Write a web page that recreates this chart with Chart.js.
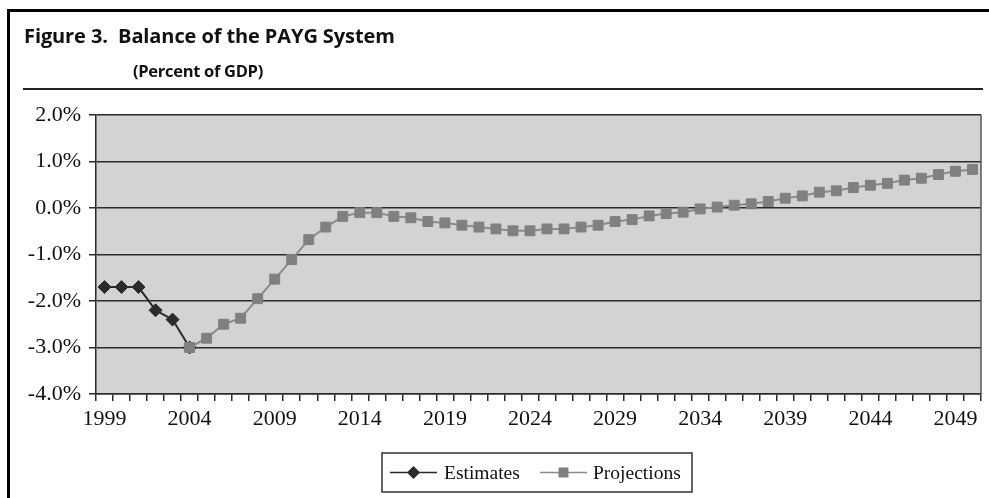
<!DOCTYPE html>
<html>
<head>
<meta charset="utf-8">
<script src="https://cdn.jsdelivr.net/npm/chart.js@4/dist/chart.umd.min.js"></script>
<style>
  html, body { margin: 0; padding: 0; background: #fff; }
  #wrap { position: relative; width: 989px; height: 498px; overflow: hidden; background: #fff; }
  #c { position: absolute; left: 0; top: 0; }
  .frame-left { position: absolute; left: 7px; top: 9px; width: 3px; height: 489px; background: #000; }
  .frame-top { position: absolute; left: 7px; top: 9px; width: 982px; height: 3px; background: #000; }
  .rule { position: absolute; left: 23px; top: 88px; width: 960px; height: 2px; background: #222; }
  .title { position: absolute; left: 24px; top: 22px; font-family: "Open Sans", sans-serif; font-weight: 700;
           font-size: 20px; color: #111; white-space: pre; letter-spacing: -0.1px; }
  .subtitle { position: absolute; left: 133px; top: 59px; font-family: "Open Sans", sans-serif; font-weight: 700;
              font-size: 16.5px; color: #111; white-space: pre; letter-spacing: -0.3px; }
</style>
</head>
<body>
<div id="wrap">
  <canvas id="c" width="989" height="498"></canvas>
  <div class="frame-left"></div>
  <div class="frame-top"></div>
  <div class="title">Figure 3.  Balance of the PAYG System</div>
  <div class="subtitle">(Percent of GDP)</div>
  <div class="rule"></div>
</div>
<script>
// Years on the category axis
const years = [];
for (let y = 1999; y <= 2050; y++) years.push(String(y));

// Labelled years on the x axis
const tickLabels = ['1999', '2004', '2009', '2014', '2019', '2024', '2029', '2034', '2039', '2044', '2049'];

// Balance of the PAYG system, percent of GDP
const estimates = [-1.7, -1.7, -1.7, -2.2, -2.4, -3.0];          // 1999-2004

const projections = [                                             // 2004-2050
  -3.0, -2.8, -2.5, -2.37, -1.95, -1.53, -1.11, -0.68, -0.41, -0.18,
  -0.10, -0.10, -0.18, -0.21, -0.29, -0.32, -0.37, -0.41, -0.45, -0.49,
  -0.49, -0.45, -0.45, -0.41, -0.37, -0.29, -0.25, -0.17, -0.12, -0.09,
  -0.02, 0.02, 0.06, 0.09, 0.14, 0.21, 0.26, 0.34, 0.37, 0.44,
  0.49, 0.53, 0.60, 0.64, 0.72, 0.79, 0.83
];

// Align both series on the full year axis
const estSeries = years.map((_, i) => i < estimates.length ? estimates[i] : null);
const projStart = years.indexOf('2004');
const projSeries = years.map((_, i) => i >= projStart ? projections[i - projStart] : null);

const DARK = '#2b2b2b';
const GREY = '#808080';
const GREY_LINE = '#8a8a8a';

// Plot background and right border of the plot area
const plotFrame = {
  id: 'plotFrame',
  beforeDraw(chart) {
    const { ctx, chartArea: a } = chart;
    ctx.save();
    ctx.fillStyle = '#d3d3d3';
    ctx.fillRect(a.left, a.top, a.right - a.left, a.bottom - a.top);
    ctx.restore();
  },
  afterDatasetsDraw(chart) {
    const { ctx, chartArea: a } = chart;
    ctx.save();
    ctx.strokeStyle = '#555';
    ctx.lineWidth = 1.5;
    ctx.beginPath();
    ctx.moveTo(a.right, a.top);
    ctx.lineTo(a.right, a.bottom);
    ctx.stroke();
    ctx.restore();
  }
};

// Boxed legend below the axis: line sample with marker, then the series name
const boxLegend = {
  id: 'boxLegend',
  afterDraw(chart) {
    const { ctx } = chart;
    const box = { x: 382, y: 453, w: 310, h: 39 };
    const cy = box.y + box.h / 2;
    ctx.save();
    ctx.fillStyle = '#fff';
    ctx.fillRect(box.x, box.y, box.w, box.h);
    ctx.strokeStyle = '#333';
    ctx.lineWidth = 1.5;
    ctx.strokeRect(box.x, box.y, box.w, box.h);

    const items = [
      { ds: chart.data.datasets[0], x0: 390, x1: 437, tx: 444 },
      { ds: chart.data.datasets[1], x0: 540, x1: 587, tx: 593 }
    ];
    ctx.font = '19.5px "Liberation Serif", "Times New Roman", serif';
    ctx.textBaseline = 'middle';
    items.forEach(it => {
      ctx.strokeStyle = it.ds.borderColor;
      ctx.lineWidth = 1.5;
      ctx.beginPath();
      ctx.moveTo(it.x0, cy);
      ctx.lineTo(it.x1, cy);
      ctx.stroke();
      ctx.fillStyle = it.ds.pointBackgroundColor;
      ctx.strokeStyle = it.ds.pointBorderColor;
      Chart.helpers.drawPoint(ctx, {
        pointStyle: it.ds.pointStyle,
        radius: it.ds.pointRadius * 0.85,
        borderWidth: 1,
        rotation: 0
      }, (it.x0 + it.x1) / 2, cy);
      ctx.fillStyle = '#111';
      ctx.fillText(it.ds.label, it.tx, cy + 1);
    });
    ctx.restore();
  }
};

new Chart(document.getElementById('c'), {
  type: 'line',
  data: {
    labels: years,
    datasets: [
      {
        label: 'Estimates',
        data: estSeries,
        borderColor: DARK,
        borderWidth: 2,
        pointStyle: 'rectRot',
        pointRadius: 6.5,
        pointBackgroundColor: DARK,
        pointBorderColor: DARK,
        pointBorderWidth: 1,
        tension: 0,
        spanGaps: false,
        order: 2
      },
      {
        label: 'Projections',
        data: projSeries,
        borderColor: GREY_LINE,
        borderWidth: 2,
        pointStyle: 'rect',
        pointRadius: 7,
        pointBackgroundColor: GREY,
        pointBorderColor: GREY,
        pointBorderWidth: 1,
        tension: 0,
        spanGaps: false,
        order: 1
      }
    ]
  },
  options: {
    responsive: false,
    animation: false,
    devicePixelRatio: 1,
    layout: { padding: { left: 0, right: 7, top: 115, bottom: 0 } },
    plugins: {
      legend: { display: false },
      title: { display: false },
      tooltip: { enabled: false }
    },
    scales: {
      x: {
        type: 'category',
        offset: true,
        afterFit(scale) { scale.height = 104; },
        grid: {
          offset: true,
          drawOnChartArea: false,
          drawTicks: true,
          tickLength: 7,
          color: DARK,
          lineWidth: 1.5
        },
        border: { display: true, color: DARK, width: 1.5 },
        ticks: {
          autoSkip: false,
          maxRotation: 0,
          minRotation: 0,
          padding: 5,
          color: '#111',
          font: { family: '"Liberation Serif", "Times New Roman", serif', size: 22 },
          callback(value, index) {
            const lab = this.getLabelForValue(value);
            return tickLabels.includes(lab) ? lab : '';
          }
        }
      },
      y: {
        min: -4,
        max: 2,
        afterFit(scale) { scale.width = 96; },
        grid: {
          drawOnChartArea: true,
          drawTicks: true,
          tickLength: 7,
          color: DARK,
          lineWidth: 1.5
        },
        border: { display: true, color: DARK, width: 1.5 },
        ticks: {
          stepSize: 1,
          padding: 8,
          color: '#111',
          font: { family: '"Liberation Serif", "Times New Roman", serif', size: 22 },
          callback: v => v.toFixed(1) + '%'
        }
      }
    }
  },
  plugins: [plotFrame, boxLegend]
});
</script>
</body>
</html>
